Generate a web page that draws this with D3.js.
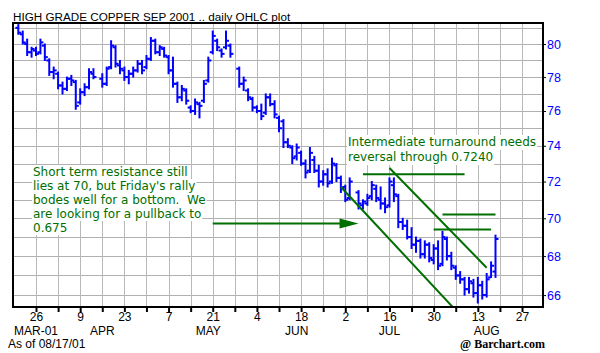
<!DOCTYPE html>
<html>
<head>
<meta charset="utf-8">
<script src="https://cdn.jsdelivr.net/npm/d3@7"></script>
<style>
  body { margin: 0; background: #fff; }
  svg { display: block; }
</style>
</head>
<body>
<svg id="chart" width="600" height="353"></svg>
<script>
// daily OHLC, Sep 2001 high grade copper (cents/lb)
var dates = [
  "2001-03-20","2001-03-21","2001-03-22","2001-03-23",
  "2001-03-26","2001-03-27","2001-03-28","2001-03-29","2001-03-30",
  "2001-04-02","2001-04-03","2001-04-04","2001-04-05","2001-04-06",
  "2001-04-09","2001-04-10","2001-04-11","2001-04-12",
  "2001-04-16","2001-04-17","2001-04-18","2001-04-19","2001-04-20",
  "2001-04-23","2001-04-24","2001-04-25","2001-04-26","2001-04-27",
  "2001-04-30","2001-05-01","2001-05-02","2001-05-03","2001-05-04",
  "2001-05-07","2001-05-08","2001-05-09","2001-05-10","2001-05-11",
  "2001-05-14","2001-05-15","2001-05-16","2001-05-17","2001-05-18",
  "2001-05-21","2001-05-22","2001-05-23","2001-05-24","2001-05-25",
  "2001-05-29","2001-05-30","2001-05-31","2001-06-01",
  "2001-06-04","2001-06-05","2001-06-06","2001-06-07","2001-06-08",
  "2001-06-11","2001-06-12","2001-06-13","2001-06-14","2001-06-15",
  "2001-06-18","2001-06-19","2001-06-20","2001-06-21","2001-06-22",
  "2001-06-25","2001-06-26","2001-06-27","2001-06-28","2001-06-29",
  "2001-07-02","2001-07-03","2001-07-05","2001-07-06",
  "2001-07-09","2001-07-10","2001-07-11","2001-07-12","2001-07-13",
  "2001-07-16","2001-07-17","2001-07-18","2001-07-19","2001-07-20",
  "2001-07-23","2001-07-24","2001-07-25","2001-07-26","2001-07-27",
  "2001-07-30","2001-07-31","2001-08-01","2001-08-02","2001-08-03",
  "2001-08-06","2001-08-07","2001-08-08","2001-08-09","2001-08-10",
  "2001-08-13","2001-08-14","2001-08-15","2001-08-16","2001-08-17"
];
var opens = [
  81.0,80.6,80.0,79.5,
  79.6,79.5,79.9,79.0,78.3,
  78.2,77.5,77.3,77.9,77.7,
  76.5,77.1,77.4,78.2,
  77.9,77.6,78.6,79.8,78.7,
  78.4,78.0,78.2,78.4,78.8,
  78.6,79.1,80.2,79.5,79.7,
  79.2,78.4,77.6,76.8,77.2,
  76.2,76.0,76.4,76.6,77.8,
  79.5,80.2,79.6,79.8,79.9,
  78.5,77.6,77.2,76.7,
  76.2,76.0,75.9,76.8,76.4,
  75.6,75.4,74.2,73.9,73.4,
  73.6,73.0,72.6,73.2,72.6,
  72.0,72.4,72.0,72.9,72.2,
  71.7,71.1,71.4,70.7,
  70.8,71.2,71.6,71.0,70.8,
  70.7,71.8,71.2,69.8,69.6,
  69.0,68.6,68.8,68.1,68.6,
  67.8,68.4,67.6,68.9,68.0,
  67.4,67.0,66.8,66.3,66.6,
  66.1,66.5,66.0,66.9,67.2
];
var highs = [
  81.2,80.8,80.3,79.8,
  79.8,80.3,80.0,79.1,78.6,
  78.3,77.7,78.0,78.1,77.8,
  77.3,77.6,78.5,78.5,
  78.2,78.6,80.2,79.9,79.0,
  78.6,78.4,78.6,79.0,79.0,
  79.3,80.4,80.3,79.9,79.8,
  79.3,79.2,77.7,77.5,77.3,
  76.3,76.7,76.5,77.8,79.2,
  80.8,80.3,79.7,80.8,80.0,
  78.6,78.0,77.3,76.8,
  76.3,76.4,77.0,77.0,76.6,
  75.7,75.5,74.4,74.0,74.1,
  73.7,73.2,73.9,73.4,72.9,
  72.6,72.7,73.3,73.0,72.3,
  71.8,72.2,71.5,71.0,
  71.3,72.0,71.8,71.7,71.1,
  72.2,72.2,71.3,70.0,69.9,
  69.5,69.0,68.9,68.8,68.7,
  68.6,68.8,69.3,69.0,68.2,
  67.5,67.2,66.9,66.9,66.8,
  66.9,66.7,67.1,67.7,69.1
];
var lows = [
  80.6,80.0,79.3,79.2,
  79.3,79.4,79.0,78.1,77.9,
  77.3,77.0,77.2,77.5,76.1,
  76.4,76.9,77.3,77.9,
  77.4,77.5,78.5,78.6,78.2,
  77.8,77.6,78.0,78.3,78.2,
  78.5,79.0,79.4,79.3,79.2,
  78.2,77.4,76.5,76.6,76.4,
  75.9,75.8,75.6,76.5,77.7,
  79.4,79.6,79.2,79.7,79.2,
  77.4,77.2,76.6,76.0,
  75.9,75.5,75.8,76.3,75.6,
  74.8,73.9,73.9,73.0,73.2,
  72.9,72.2,72.5,72.5,71.7,
  71.8,71.7,71.9,72.0,71.4,
  70.9,71.0,70.5,70.5,
  70.7,71.0,70.9,70.5,70.3,
  70.6,70.9,69.5,69.4,68.9,
  68.4,68.2,67.9,67.9,67.7,
  67.6,67.3,67.5,67.8,67.3,
  66.8,66.6,66.0,66.1,65.9,
  65.6,65.8,65.9,66.9,66.9
];
var closes = [
  80.7,80.1,79.5,79.7,
  79.4,80.1,79.2,78.3,78.4,
  77.5,77.3,77.9,77.8,76.3,
  77.1,77.4,78.3,78.0,
  77.6,78.5,79.9,78.8,78.5,
  78.0,78.2,78.4,78.8,78.4,
  79.1,80.2,79.5,79.8,79.3,
  78.4,77.6,76.8,77.3,76.6,
  76.0,76.5,76.3,77.6,79.0,
  80.5,79.8,79.4,80.2,79.4,
  77.6,77.8,76.8,76.2,
  76.0,75.7,76.8,76.4,75.8,
  75.0,74.2,74.0,73.3,73.9,
  73.0,72.5,73.6,72.6,72.0,
  72.4,71.9,73.0,72.2,71.6,
  71.0,72.0,70.8,70.9,
  71.1,71.8,71.1,70.8,70.6,
  72.0,71.3,69.8,69.6,69.0,
  68.6,68.8,68.1,68.6,67.9,
  68.4,67.5,69.0,68.0,67.5,
  67.0,66.8,66.3,66.7,66.1,
  66.5,66.0,66.8,67.5,68.9
];

var priceTicks = [66, 68, 70, 72, 74, 76, 78, 80];
var priceGrid = [66, 67, 68, 69, 70, 71, 72, 73, 74, 75, 76, 77, 78, 79, 80, 81];
var monthNames = ["MAR-01", "APR", "MAY", "JUN", "JUL", "AUG"];
var monthDates = ["2001-03-26", "2001-04-16", "2001-05-18", "2001-06-15", "2001-07-16", "2001-08-15"];

// analyst drawings: [date, price] end points
var resistLines = [
  [["2001-07-06", 72.4], ["2001-08-08", 72.4]],
  [["2001-08-01", 70.2], ["2001-08-17", 70.2]],
  [["2001-07-30", 69.4], ["2001-08-16", 69.4]]
];
var channelLines = [
  [["2001-07-16", 72.75], ["2001-08-15", 67.4]],
  [["2001-06-29", 71.7], ["2001-08-07", 65.0]]
];
var arrowLine = [["2001-05-21", 69.72], ["2001-07-05", 69.72]];
var noteLeft = ["Short term resistance still", "lies at 70, but Friday's rally",
  "bodes well for a bottom.  We", "are looking for a pullback to", "0.675"];
var noteRight = ["Intermediate turnaround needs", "reversal through 0.7240"];

(function () {
  var parse = d3.timeParse("%Y-%m-%d");
  var base = new Date(2001, 2, 26);
  // weekday slot counted from Monday 26 Mar
  function slot(d) {
    var days = Math.round((d - base) / 864e5);
    var w = Math.floor(days / 7), r = days - w * 7;
    return w * 5 + Math.min(r, 5);
  }

  var bars = dates.map(function (d, i) {
    return { date: parse(d), o: opens[i], h: highs[i], l: lows[i], c: closes[i] };
  });

  var pL = 13, pR = 543, pT = 23, pB = 307;
  var x = d3.scaleLinear().domain([-5.206, 114.75]).range([pL, pR]);
  var y = d3.scaleLog().domain([65.4, 81.3]).range([pB, pT]);
  function px(d) { return x(slot(parse(d))); }

  var svg = d3.select("#chart");
  var blue = "#0000ff", green = "#006f00";
  var sans = "Liberation Sans, Arial, sans-serif";

  svg.append("defs").append("clipPath").attr("id", "plot")
    .append("rect").attr("x", pL).attr("y", pT)
    .attr("width", pR - pL).attr("height", pB - pT);

  // grid
  var mondays = d3.timeMonday.range(new Date(2001, 2, 26), new Date(2001, 7, 28));
  svg.append("g").selectAll("line").data(priceGrid).enter().append("line")
    .attr("x1", pL).attr("x2", pR)
    .attr("y1", function (d) { return Math.round(y(d)) + 0.5; })
    .attr("y2", function (d) { return Math.round(y(d)) + 0.5; })
    .attr("stroke", "#b0b0b0");
  svg.append("g").selectAll("line").data(mondays).enter().append("line")
    .attr("y1", pT).attr("y2", pB)
    .attr("x1", function (d) { return Math.round(x(slot(d))) + 0.5; })
    .attr("x2", function (d) { return Math.round(x(slot(d))) + 0.5; })
    .attr("stroke", "#b8b8b8");

  // OHLC bars
  var g = svg.append("g").attr("clip-path", "url(#plot)");
  var bar = g.selectAll("g.bar").data(bars).enter().append("g").attr("class", "bar")
    .attr("stroke", blue).attr("stroke-width", 2);
  bar.append("line")
    .attr("x1", function (d) { return x(slot(d.date)); })
    .attr("x2", function (d) { return x(slot(d.date)); })
    .attr("y1", function (d) { return y(d.h) - 0.5; })
    .attr("y2", function (d) { return y(d.l) + 0.5; });
  bar.append("line")
    .attr("x1", function (d) { return x(slot(d.date)) - 3; })
    .attr("x2", function (d) { return x(slot(d.date)); })
    .attr("y1", function (d) { return y(d.o); })
    .attr("y2", function (d) { return y(d.o); });
  bar.append("line")
    .attr("x1", function (d) { return x(slot(d.date)); })
    .attr("x2", function (d) { return x(slot(d.date)) + 3; })
    .attr("y1", function (d) { return y(d.c); })
    .attr("y2", function (d) { return y(d.c); });

  // drawn lines
  var ann = svg.append("g").attr("clip-path", "url(#plot)")
    .attr("stroke", green).attr("stroke-width", 2);
  resistLines.concat(channelLines).forEach(function (seg) {
    ann.append("line")
      .attr("x1", px(seg[0][0])).attr("y1", y(seg[0][1]))
      .attr("x2", px(seg[1][0])).attr("y2", y(seg[1][1]));
  });
  var ax1 = px(arrowLine[0][0]), ax2 = px(arrowLine[1][0]), ay = y(arrowLine[0][1]);
  ann.append("line").attr("x1", ax1).attr("x2", ax2 - 12).attr("y1", ay).attr("y2", ay);
  ann.append("path").attr("stroke", "none").attr("fill", green)
    .attr("d", "M" + (ax2 - 19) + "," + (ay - 5) + "L" + ax2 + "," + ay + "L" + (ax2 - 19) + "," + (ay + 5) + "Z");

  // notes with white backing
  function note(lines, x0, y0, dy) {
    var grp = svg.append("g");
    lines.forEach(function (t, i) {
      var tx = grp.append("text").attr("x", x0).attr("y", y0 + i * dy)
        .attr("font-family", "DejaVu Sans, Verdana, sans-serif").attr("font-size", 12)
        .attr("fill", green).attr("xml:space", "preserve").text(t);
      var b = tx.node().getBBox();
      grp.insert("rect", "text").attr("x", b.x - 1).attr("y", y0 + i * dy - 11)
        .attr("width", b.width + 2).attr("height", dy).attr("fill", "#fff");
    });
  }
  note(noteLeft, 33, 176, 14);
  note(noteRight, 348, 146, 15);

  // frame
  svg.append("rect").attr("x", pL).attr("y", pT)
    .attr("width", pR - pL).attr("height", pB - pT)
    .attr("fill", "none").attr("stroke", "#000").attr("stroke-width", 2);

  // price axis
  var yAxis = svg.append("g").attr("transform", "translate(" + pR + ",0)")
    .call(d3.axisRight(y).tickValues(priceTicks).tickFormat(d3.format("d")).tickSize(3).tickPadding(1));
  yAxis.select(".domain").remove();
  yAxis.selectAll("line").attr("stroke", "#000");
  yAxis.selectAll("text").attr("fill", blue)
    .attr("font-family", sans).attr("font-size", 12.5);

  // date axis
  var fmt = d3.timeFormat("%-d");
  var xAxis = svg.append("g").attr("transform", "translate(0," + pB + ")")
    .call(d3.axisBottom(x).tickValues(mondays.map(slot))
      .tickFormat(function (s, i) { return i % 2 === 0 ? fmt(mondays[i]) : ""; })
      .tickSize(5).tickPadding(0));
  xAxis.select(".domain").remove();
  xAxis.selectAll("line").attr("stroke", "#000").attr("stroke-width", 2);
  xAxis.selectAll("text").attr("fill", "#000")
    .attr("font-family", sans).attr("font-size", 12);

  svg.append("g").selectAll("text").data(monthNames).enter().append("text")
    .attr("x", function (d, i) { return px(monthDates[i]); })
    .attr("y", 335).attr("text-anchor", "middle")
    .attr("font-family", sans).attr("font-size", 12)
    .text(function (d) { return d; });

  // captions
  svg.append("text").attr("x", 13).attr("y", 21)
    .attr("font-family", sans).attr("font-size", 11.7)
    .text("HIGH GRADE COPPER SEP 2001 .. daily OHLC plot");
  svg.append("text").attr("x", 8).attr("y", 348)
    .attr("font-family", sans).attr("font-size", 12)
    .text("As of 08/17/01");
  svg.append("text").attr("x", 545).attr("y", 348).attr("text-anchor", "end")
    .attr("font-family", "Liberation Serif, Times New Roman, serif").attr("font-size", 12)
    .attr("font-weight", "bold")
    .text("@ Barchart.com");
})();
</script>
</body>
</html>
